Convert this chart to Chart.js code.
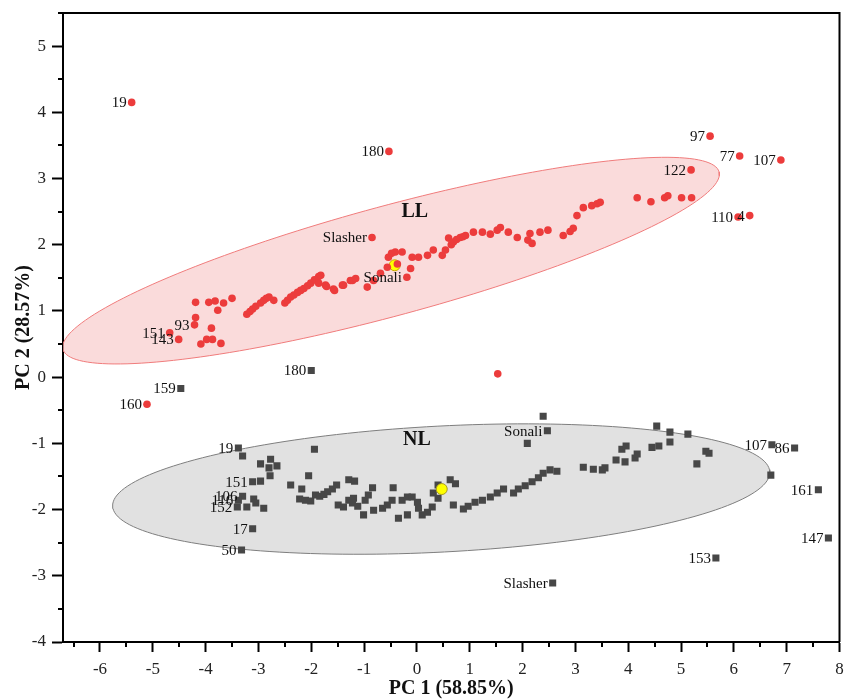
<!DOCTYPE html>
<html lang="en">
<head>
<meta charset="UTF-8">
<title>PCA LL / NL</title>
<script src="https://cdn.jsdelivr.net/npm/chart.js"></script>
<style>
  body { margin: 0; background: #ffffff; }
  #wrap { width: 846px; height: 699px; }
</style>
</head>
<body>
<div id="wrap"><canvas id="pca" width="846" height="699"></canvas></div>
<script>
// values (PC1, PC2)
const xTicks = [-6, -5, -4, -3, -2, -1, 0, 1, 2, 3, 4, 5, 6, 7, 8];
const yTicks = [-4, -3, -2, -1, 0, 1, 2, 3, 4, 5];

// LL group, unlabelled points
const llX = [-4.19, -3.94, -3.82, -3.77, -3.66, -3.50, -4.19, -3.89, -4.09, -3.98, -3.87, -3.71,
  -3.22, -3.16, -3.11, -3.05, -2.96, -2.90, -2.85, -2.80, -2.71, -2.50, -2.45, -2.39, -2.33,
  -2.26, -2.20, -2.14, -2.07, -2.01, -1.94, -1.86, -1.86, -1.82, -1.73, -1.71, -1.58, -1.56,
  -1.41, -1.39, -1.26, -1.22, -1.16, -0.94, -0.82, -0.69, -0.56, -0.54, -0.48, -0.41, -0.28,
  -0.12, -0.09, 0.03, 0.20, 0.31, 0.48, 0.54, 0.60, 0.65, 0.69, 0.75, 0.82, 0.87, 0.92, 1.07,
  1.24, 1.39, 1.52, 1.58, 1.73, 1.90, 2.10, 2.14, 2.18, 2.33, 2.48, 2.77, 2.90, 2.96, 3.03,
  3.15, 3.31, 3.41, 3.47, 4.17, 4.43, 4.69, 4.75, 5.01, 5.20, 1.53, -0.37];
const llY = [1.13, 1.13, 1.15, 1.01, 1.12, 1.19, 0.90, 0.74, 0.50, 0.57, 0.57, 0.51,
  0.95, 0.99, 1.03, 1.07, 1.12, 1.16, 1.19, 1.21, 1.16, 1.12, 1.16, 1.21, 1.24,
  1.28, 1.31, 1.34, 1.38, 1.42, 1.47, 1.52, 1.42, 1.54, 1.39, 1.37, 1.33, 1.31,
  1.39, 1.39, 1.46, 1.46, 1.49, 1.36, 1.46, 1.57, 1.66, 1.81, 1.87, 1.89, 1.89,
  1.64, 1.81, 1.81, 1.84, 1.92, 1.84, 1.92, 2.10, 2.00, 2.04, 2.08, 2.11, 2.12, 2.14, 2.19,
  2.19, 2.16, 2.22, 2.26, 2.19, 2.11, 2.07, 2.17, 2.02, 2.19, 2.22, 2.14, 2.20, 2.25, 2.44,
  2.56, 2.59, 2.62, 2.64, 2.71, 2.65, 2.71, 2.74, 2.71, 2.71, 0.05, 1.71];

// LL group, labelled points
const llNames = ['19', '180', '97', '77', '107', '122', '110', '4', 'Slasher', 'Sonali', '151', '143', '93', '160'];
const llNamedX = [-5.40, -0.53, 5.55, 6.11, 6.89, 5.19, 6.08, 6.30, -0.85, -0.19, -4.68, -4.51, -4.21, -5.11];
const llNamedY = [4.15, 3.41, 3.64, 3.34, 3.28, 3.13, 2.42, 2.44, 2.11, 1.51, 0.67, 0.57, 0.79, -0.41];

// NL group, unlabelled points
const nlX = [-3.30, -2.96, -2.77, -2.80, -2.65, -2.78, -2.96, -3.22, -3.09, -3.05, -2.90,
  -1.94, -2.05, -2.39, -2.18, -2.22, -2.11, -2.01, -1.92, -1.84, -1.76, -1.69, -1.60, -1.52,
  -1.29, -1.18, -1.49, -1.39, -1.29, -1.22, -1.12, -1.20, -1.01, -0.98, -0.92, -0.84, -0.82,
  -0.65, -0.56, -0.47, -0.45, -0.35, -0.28, -0.18, -0.18, -0.09, 0.01, 0.03, 0.10, 0.20, 0.29,
  0.40, 0.40, 0.31, 0.63, 0.73, 0.69, 0.88, 0.97, 1.10, 1.24, 1.39, 1.52, 1.64, 1.83, 1.92,
  2.05, 2.18, 2.30, 2.39, 2.52, 2.65, 3.15, 3.34, 3.56, 3.77, 3.94, 4.13, 3.88, 3.96, 4.17,
  2.39, 2.09, 4.54, 4.79, 4.79, 5.13, 4.45, 4.58, 3.51, 5.30, 5.47, 5.53, 6.70];
const nlY = [-1.19, -1.31, -1.24, -1.37, -1.34, -1.49, -1.57, -1.96, -1.84, -1.90, -1.98,
  -1.09, -1.49, -1.63, -1.69, -1.84, -1.86, -1.87, -1.78, -1.80, -1.77, -1.73, -1.69, -1.63,
  -1.55, -1.57, -1.93, -1.96, -1.86, -1.90, -1.95, -1.83, -2.08, -1.86, -1.78, -1.67, -2.01,
  -1.98, -1.93, -1.86, -1.67, -2.13, -1.86, -1.81, -2.08, -1.81, -1.89, -1.98, -2.08, -2.04, -1.96,
  -1.83, -1.63, -1.75, -1.55, -1.61, -1.93, -1.99, -1.95, -1.89, -1.86, -1.81, -1.75, -1.69, -1.75, -1.69,
  -1.64, -1.58, -1.52, -1.45, -1.40, -1.42, -1.36, -1.39, -1.37, -1.25, -1.28, -1.22, -1.09, -1.04, -1.16,
  -0.59, -1.00, -0.74, -0.83, -0.98, -0.86, -1.06, -1.04, -1.40, -1.31, -1.12, -1.15, -1.48];

// NL group, labelled points
const nlNames = ['180', '159', '19', '151', '106', '116', '152', '17', '50', 'Sonali', '107', '86', '161', '147', '153', 'Slasher'];
const nlNamedX = [-2.00, -4.47, -3.38, -3.11, -3.30, -3.38, -3.40, -3.11, -3.32, 2.47, 6.72, 7.15, 7.60, 7.79, 5.66, 2.57];
const nlNamedY = [0.10, -0.17, -1.07, -1.58, -1.80, -1.86, -1.96, -2.29, -2.61, -0.81, -1.02, -1.07, -1.70, -2.43, -2.73, -3.11];

// group centroids (LL, NL) and group names
const groupNames = ['LL', 'NL'];
const centroidX = [-0.42, 0.47];
const centroidY = [1.69, -1.69];
const groupNameX = [-0.04, 0.00];
const groupNameY = [2.49, -0.95];

// confidence ellipses: centre x, centre y, major axis (dx, dy), minor axis (dx, dy)
const llEllipse = [-0.49, 1.76, 6.21, 1.34, 0.27, -0.80];
const nlEllipse = [0.46, -1.69, 6.22, 0.26, 0.063, -0.95];

const serif = '"Liberation Serif", "Times New Roman", serif';

function zip(xs, ys) {
  return xs.map((x, i) => ({ x: x, y: ys[i] }));
}

function ellipsePoints(e) {
  const pts = [];
  for (let i = 0; i <= 180; i++) {
    const t = i / 180 * 2 * Math.PI;
    pts.push({
      x: e[0] + Math.cos(t) * e[2] + Math.sin(t) * e[4],
      y: e[1] + Math.cos(t) * e[3] + Math.sin(t) * e[5]
    });
  }
  return pts;
}

const RED = '#ec3c3c';
const GREY = '#474747';

// labels next to points, group names, minor ticks and the frame
const decorPlugin = {
  id: 'decor',
  afterDatasetsDraw(chart) {
    const ctx = chart.ctx;
    const xs = chart.scales.x, ys = chart.scales.y;
    ctx.save();
    ctx.fillStyle = '#111';
    ctx.font = '15px ' + serif;
    ctx.textAlign = 'right';
    ctx.textBaseline = 'middle';
    chart.data.datasets.forEach((ds, i) => {
      if (!ds.tags) return;
      chart.getDatasetMeta(i).data.forEach((pt, j) => {
        ctx.fillText(ds.tags[j], pt.x - 5, pt.y + 1);
      });
    });
    ctx.font = 'bold 20px ' + serif;
    ctx.textAlign = 'center';
    groupNames.forEach((g, i) => {
      ctx.fillText(g, xs.getPixelForValue(groupNameX[i]), ys.getPixelForValue(groupNameY[i]));
    });
    ctx.restore();
  },
  afterDraw(chart) {
    const ctx = chart.ctx;
    const a = chart.chartArea;
    const xs = chart.scales.x, ys = chart.scales.y;
    ctx.save();
    ctx.strokeStyle = '#000';
    ctx.lineWidth = 2;
    ctx.beginPath();
    ctx.moveTo(a.left, a.top);
    ctx.lineTo(a.right, a.top);
    ctx.lineTo(a.right, a.bottom);
    for (let v = xTicks[0] - 0.5; v < xTicks[xTicks.length - 1]; v += 1) {
      const px = Math.round(xs.getPixelForValue(v));
      if (px < a.left) continue;
      ctx.moveTo(px, a.bottom);
      ctx.lineTo(px, a.bottom + 5);
    }
    for (let v = yTicks[0] + 0.5; v < yTicks[yTicks.length - 1] + 1; v += 1) {
      const py = Math.round(ys.getPixelForValue(v));
      if (py < a.top) continue;
      ctx.moveTo(a.left, py);
      ctx.lineTo(a.left - 5, py);
    }
    ctx.stroke();
    ctx.restore();
  }
};

const ctx = document.getElementById('pca').getContext('2d');
new Chart(ctx, {
  type: 'scatter',
  data: {
    datasets: [
      {
        data: ellipsePoints(llEllipse), showLine: true, fill: 'shape',
        backgroundColor: 'rgba(248, 200, 200, 0.65)', borderColor: '#f07c7c', borderWidth: 1,
        pointRadius: 0, tension: 0, order: 10
      },
      {
        data: ellipsePoints(nlEllipse), showLine: true, fill: 'shape',
        backgroundColor: 'rgba(222, 222, 222, 0.9)', borderColor: '#7e7e7e', borderWidth: 1,
        pointRadius: 0, tension: 0, order: 10
      },
      {
        data: [{ x: centroidX[0], y: centroidY[0] }],
        pointStyle: 'circle', pointRadius: 5.5, backgroundColor: '#ffff00', borderColor: '#c9a800',
        borderWidth: 1, order: 6
      },
      {
        data: zip(nlX, nlY), pointStyle: 'rect', pointRadius: 5,
        backgroundColor: GREY, borderColor: GREY, borderWidth: 0, order: 5
      },
      {
        data: zip(nlNamedX, nlNamedY), tags: nlNames, pointStyle: 'rect', pointRadius: 5,
        backgroundColor: GREY, borderColor: GREY, borderWidth: 0, order: 5
      },
      {
        data: [{ x: centroidX[1], y: centroidY[1] }],
        pointStyle: 'circle', pointRadius: 5.5, backgroundColor: '#ffff00', borderColor: '#a89a20',
        borderWidth: 1, order: 4
      },
      {
        data: zip(llX, llY), pointStyle: 'circle', pointRadius: 3.8,
        backgroundColor: RED, borderColor: RED, borderWidth: 0, order: 3
      },
      {
        data: zip(llNamedX, llNamedY), tags: llNames, pointStyle: 'circle', pointRadius: 3.8,
        backgroundColor: RED, borderColor: RED, borderWidth: 0, order: 3
      }
    ]
  },
  options: {
    responsive: false,
    animation: false,
    layout: { padding: { top: 13, right: 4, left: 0, bottom: 0 } },
    plugins: {
      legend: { display: false },
      tooltip: { enabled: false }
    },
    scales: {
      x: {
        type: 'linear',
        min: -6.7,
        max: 8,
        afterBuildTicks: (s) => { s.ticks = xTicks.map(v => ({ value: v })); },
        afterFit: (s) => { s.height = 57; s.paddingLeft = 0; s.paddingRight = 0; },
        grid: { drawOnChartArea: false, drawTicks: true, tickLength: 10, tickColor: '#000', tickWidth: 2 },
        border: { display: true, color: '#000', width: 2 },
        ticks: { color: '#222', font: { family: serif, size: 17 }, padding: 7, maxRotation: 0 },
        title: {
          display: true, text: 'PC 1 (58.85%)', color: '#111',
          font: { family: serif, size: 20, weight: 'bold' }, padding: { top: 0, bottom: -2 }
        }
      },
      y: {
        type: 'linear',
        min: -4,
        max: 5.5,
        afterBuildTicks: (s) => { s.ticks = yTicks.map(v => ({ value: v })); },
        afterFit: (s) => { s.width = 63; s.paddingTop = 0; s.paddingBottom = 0; },
        grid: { drawOnChartArea: false, drawTicks: true, tickLength: 11, tickColor: '#000', tickWidth: 2 },
        border: { display: true, color: '#000', width: 2 },
        ticks: { color: '#222', font: { family: serif, size: 17 }, padding: 6 },
        title: {
          display: true, text: 'PC 2 (28.57%)', color: '#111',
          font: { family: serif, size: 20, weight: 'bold' }, padding: { top: 12, bottom: 0 }
        }
      }
    }
  },
  plugins: [decorPlugin]
});
</script>
</body>
</html>
